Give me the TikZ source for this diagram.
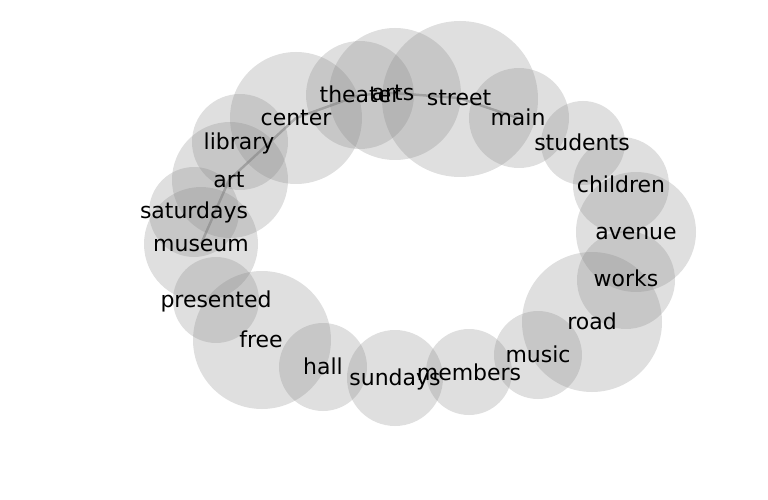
\documentclass[tikz,border=0pt]{standalone}
\usepackage{fontspec}
\setmainfont{DejaVu Sans}
\usetikzlibrary{positioning}
\pgfdeclarelayer{bg}
\pgfsetlayers{bg,main}

\begin{document}
\begin{tikzpicture}[x=0.02cm,y=-0.02cm,
  blob/.style={fill=gray,fill opacity=.25},
  word/.style={inner sep=0pt,text height=11.7pt,text depth=2.9pt,font=\fontsize{12.5}{15}\selectfont},
  link/.style={draw=gray,line width=1.4pt,draw opacity=.55}]
\useasboundingbox (0,0) rectangle (768,500);
% circles, one per word
\foreach \n/\x/\y/\r in {museum/201/244/57,art/230/180/58,center/296/118/66,
  theater/360/95/54,arts/395/94/66,street/460/99/78,main/519/118/50,
  students/583/143/42,children/621/185/48,avenue/636/232/60,works/626/280/49,
  road/592/322/70,music/538/355/44,members/469/372/43,sundays/395/378/48,
  hall/323/367/44,free/262/340/69,presented/216/300/43,saturdays/194/212/45,
  library/240/142/48}
  \fill[blob] (\x,\y) circle (\r);
% labels
\foreach \n/\x/\y in {museum/201/244,art/229/180,center/296/118,theater/360/95,
  arts/393/93,street/459/98,main/518/118,students/582/143,children/621/185,
  avenue/636/232,works/626/279,road/592/322,music/538/355,members/469/373,
  sundays/395/378,hall/323/367,free/261/340,presented/216/300,saturdays/194/211,
  library/239/142}
  \node[word] (\n) at (\x,\y) {\n};
% links
\begin{pgfonlayer}{bg}
\draw[link] (museum.center)--(art.center)--(center.center)--(theater.center)
  --(arts.center)--(street.center)--(main.center);
\end{pgfonlayer}
\end{tikzpicture}
\end{document}
